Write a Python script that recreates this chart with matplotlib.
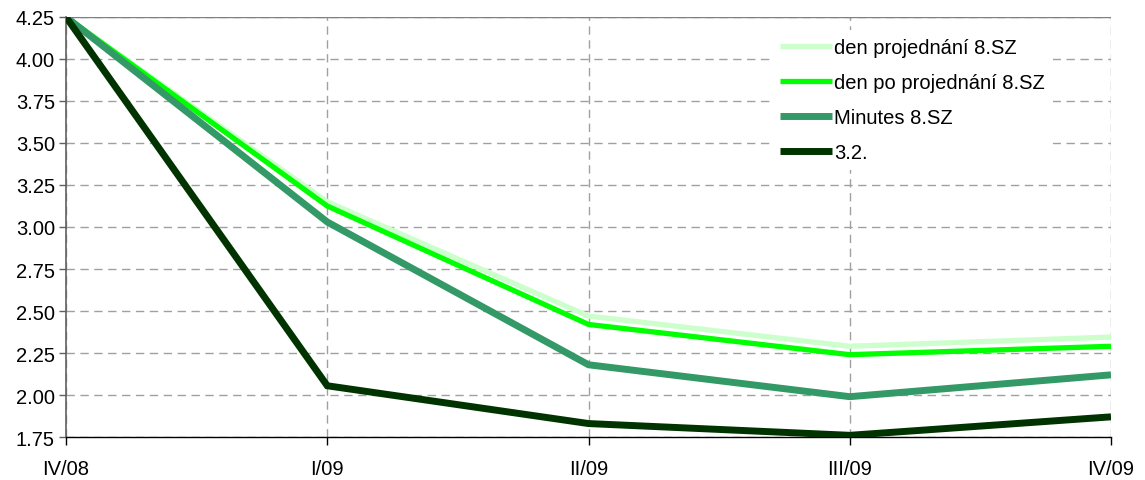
import numpy as np
import matplotlib.pyplot as plt

plt.rcParams['font.family'] = ['Liberation Sans', 'DejaVu Sans']

quarters = ['IV/08', 'I/09', 'II/09', 'III/09', 'IV/09']
den_projednani = [4.25, 3.15, 2.47, 2.29, 2.345]
den_po_projednani = [4.25, 3.125, 2.42, 2.24, 2.29]
minutes = [4.25, 3.03, 2.18, 1.99, 2.12]
unor = [4.25, 2.055, 1.83, 1.76, 1.87]

series = [
    ('den projednání 8.SZ', den_projednani, '#CCFFCC', 3.8),
    ('den po projednání 8.SZ', den_po_projednani, '#00FF00', 3.8),
    ('Minutes 8.SZ', minutes, '#339966', 5),
    ('3.2.', unor, '#003300', 5),
]

fig = plt.figure(figsize=(11.45, 4.81), dpi=100)
ax = fig.add_axes([66 / 1145, 1 - 438 / 481, (1111 - 66) / 1145, 420 / 481])

x = np.arange(len(quarters))
for label, vals, color, lw in series:
    ax.plot(x, vals, color=color, lw=lw, label=label, solid_joinstyle='miter',
            solid_capstyle='butt', zorder=3)

ax.set_xlim(0, len(quarters) - 1)
ax.set_ylim(1.75, 4.25)
yt = np.arange(1.75, 4.26, 0.25)
ax.set_yticks(yt)
ax.set_yticklabels([f'{v:.2f}' for v in yt])
ax.set_xticks(x)
ax.set_xticklabels(quarters)

ax.grid(True, color='#a0a0a0', linestyle=(0, (6, 4)), lw=1)
ax.set_axisbelow(True)

for side in ['top', 'right']:
    ax.spines[side].set_visible(False)
ax.spines['left'].set_color('#606060')
ax.spines['left'].set_linewidth(1.2)
ax.spines['bottom'].set_color('black')
ax.spines['bottom'].set_linewidth(1)
ax.axhline(4.25, color='#808080', lw=1, zorder=1)

ax.tick_params(axis='y', length=5, width=1, labelsize=14.5, pad=3, color='#606060')
ax.tick_params(axis='x', length=6, width=1, labelsize=14.5, pad=10, direction='out')

# legend box in figure pixels, white background covers the grid
leg = ax.legend(loc='upper left', bbox_to_anchor=(772 / 1145, 1 - 31 / 481),
                bbox_transform=fig.transFigure, frameon=True,
                framealpha=1, edgecolor='none', facecolor='white', fontsize=14.5,
                handlelength=2.6, handletextpad=0.1, labelspacing=0.8,
                borderpad=0.4, borderaxespad=0)
leg.set_zorder(5)

fig.savefig('out.png', dpi=100)
